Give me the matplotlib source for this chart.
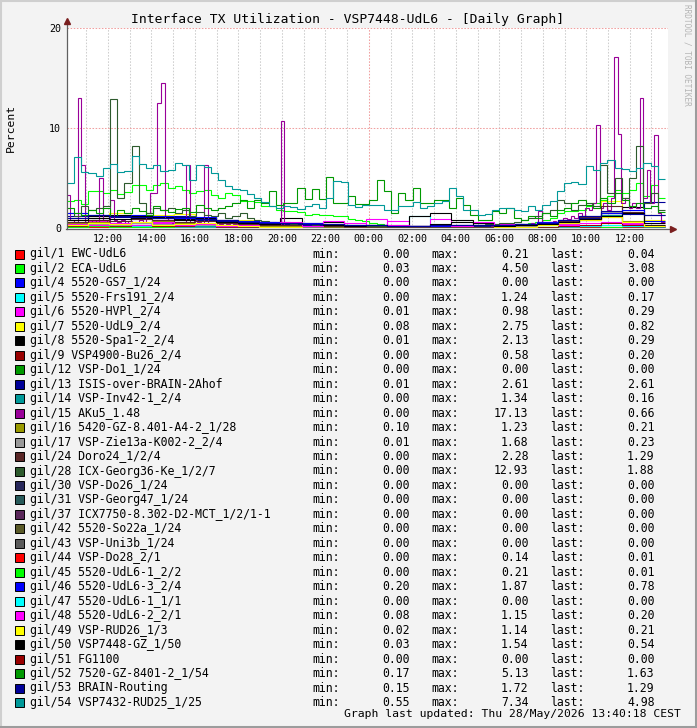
import numpy as np
import matplotlib
matplotlib.use("Agg")
import matplotlib.pyplot as plt
from matplotlib.patches import Rectangle

W, H = 697, 728

# time axis in hours since 00:00 of the first day
T_START = 10.10
T_END = 37.62
X_MAX = 37.76
X_TICKS = [12, 14, 16, 18, 20, 22, 24, 26, 28, 30, 32, 34, 36]
X_TICK_LABELS = ["12:00", "14:00", "16:00", "18:00", "20:00", "22:00", "00:00",
                 "02:00", "04:00", "06:00", "08:00", "10:00", "12:00"]
Y_TICKS = [0, 10, 20]

TITLE = "Interface TX Utilization - VSP7448-UdL6 - [Daily Graph]"
FOOTER = "Graph last updated: Thu 28/May/2026 13:40:18 CEST"

PORTS = ["gil/1 EWC-UdL6", "gil/2 ECA-UdL6", "gil/4 5520-GS7_1/24", "gil/5 5520-Frs191_2/4",
         "gil/6 5520-HVPl_2/4", "gil/7 5520-UdL9_2/4", "gil/8 5520-Spa1-2_2/4",
         "gil/9 VSP4900-Bu26_2/4", "gil/12 VSP-Do1_1/24", "gil/13 ISIS-over-BRAIN-2Ahof",
         "gil/14 VSP-Inv42-1_2/4", "gil/15 AKu5_1.48", "gil/16 5420-GZ-8.401-A4-2_1/28",
         "gil/17 VSP-Zie13a-K002-2_2/4", "gil/24 Doro24_1/2/4", "gil/28 ICX-Georg36-Ke_1/2/7",
         "gil/30 VSP-Do26_1/24", "gil/31 VSP-Georg47_1/24", "gil/37 ICX7750-8.302-D2-MCT_1/2/1-1",
         "gil/42 5520-So22a_1/24", "gil/43 VSP-Uni3b_1/24", "gil/44 VSP-Do28_2/1",
         "gil/45 5520-UdL6-1_2/2", "gil/46 5520-UdL6-3_2/4", "gil/47 5520-UdL6-1_1/1",
         "gil/48 5520-UdL6-2_2/1", "gil/49 VSP-RUD26_1/3", "gil/50 VSP7448-GZ_1/50",
         "gil/51 FG1100", "gil/52 7520-GZ-8401-2_1/54", "gil/53 BRAIN-Routing",
         "gil/54 VSP7432-RUD25_1/25"]
COLORS = ["#ff0000", "#00ff00", "#0000ff", "#00ffff", "#ff00ff", "#ffff00", "#000000",
          "#990000", "#009900", "#000099", "#009999", "#990099", "#999900", "#999999",
          "#5a2727", "#2d5a2d", "#27275a", "#275a5a", "#5a275a", "#5a5a27", "#5a5a5a",
          "#ff0000", "#00ff00", "#0000ff", "#00ffff", "#ff00ff", "#ffff00", "#000000",
          "#990000", "#009900", "#000099", "#009999"]
MINS = [0.00, 0.03, 0.00, 0.00, 0.01, 0.08, 0.01, 0.00, 0.00, 0.01, 0.00, 0.00, 0.10, 0.01,
        0.00, 0.00, 0.00, 0.00, 0.00, 0.00, 0.00, 0.00, 0.00, 0.20, 0.00, 0.08, 0.02, 0.03,
        0.00, 0.17, 0.15, 0.55]
MAXS = [0.21, 4.50, 0.00, 1.24, 0.98, 2.75, 2.13, 0.58, 0.00, 2.61, 1.34, 17.13, 1.23, 1.68,
        2.28, 12.93, 0.00, 0.00, 0.00, 0.00, 0.00, 0.14, 0.21, 1.87, 0.00, 1.15, 1.14, 1.54,
        0.00, 5.13, 1.72, 7.34]
LASTS = [0.04, 3.08, 0.00, 0.17, 0.29, 0.82, 0.29, 0.20, 0.00, 2.61, 0.16, 0.66, 0.21, 0.23,
         1.29, 1.88, 0.00, 0.00, 0.00, 0.00, 0.00, 0.01, 0.01, 0.78, 0.00, 0.20, 0.21, 0.54,
         0.00, 1.63, 1.29, 4.98]

# spiky port, 10 minute samples (percent)
gi_15 = [3.3, 0.8, 0.6, 13.0, 6.3, 0.5, 0.6, 0.8, 0.5, 5.0, 0.8, 0.6,
         2.8, 0.8, 0.6, 0.8, 0.5, 0.7, 0.6, 0.5, 0.8, 0.6, 1.5, 3.5,
         3.5, 12.5, 14.5, 1.0, 0.8, 0.5, 0.6, 0.5, 0.6, 6.3, 0.6, 0.8,
         0.6, 0.5, 6.3, 0.5, 0.4, 0.5, 0.4, 0.3, 0.4, 0.3, 0.4, 0.3,
         0.3, 0.2, 0.3, 0.2, 0.3, 0.2, 0.3, 0.2, 0.2, 0.3, 0.2, 10.7,
         0.3, 0.2, 0.2, 0.2, 0.1, 0.2, 0.2, 0.1, 0.2, 0.1, 0.1, 0.1,
         0.1, 0.1, 0.1, 0.1, 0.1, 0.1, 0.1, 0.1, 0.1, 0.1, 0.1, 0.1,
         0.1, 0.1, 0.1, 0.1, 0.1, 0.1, 0.1, 0.1, 0.1, 0.1, 0.1, 0.1,
         0.1, 0.1, 0.1, 0.1, 0.1, 0.1, 0.1, 0.1, 0.1, 0.1, 0.1, 0.1,
         0.1, 0.1, 0.1, 0.1, 0.1, 0.1, 0.1, 0.1, 0.1, 0.2, 0.2, 0.2,
         0.2, 0.3, 0.2, 0.3, 0.3, 0.4, 0.3, 0.4, 0.5, 0.4, 1.7, 0.5,
         0.5, 0.6, 0.7, 0.6, 0.8, 1.0, 0.9, 1.2, 1.0, 1.5, 1.2, 2.0,
         1.8, 2.5, 10.3, 2.0, 2.5, 1.8, 3.0, 17.13, 9.4, 2.5, 3.0, 2.0,
         2.5, 2.0, 13.0, 3.0, 5.8, 2.5, 9.3, 1.5, 0.66]

# busy ports, 20 minute samples (percent)
gi_2 = [2.7, 2.8, 2.4, 3.7, 3.7, 3.5, 3.8, 3.4, 3.6, 4.3,
        4.3, 3.8, 4.3, 4.5, 4.0, 4.2, 3.8, 3.5, 3.7, 3.8,
        3.3, 3.0, 3.5, 3.3, 2.7, 2.7, 2.6, 2.2, 2.2, 1.8,
        1.7, 1.7, 1.6, 1.3, 1.4, 1.3, 1.3, 1.2, 1.2, 0.9,
        0.8, 0.7, 0.5, 0.4, 0.3, 0.3, 0.3, 0.25, 0.2, 0.2,
        0.2, 0.2, 0.2, 0.2, 0.2, 0.2, 0.25, 0.2, 0.2, 0.3,
        0.3, 0.3, 0.4, 0.4, 0.5, 0.6, 0.8, 1.0, 1.5, 1.7,
        1.7, 1.8, 2.2, 2.5, 2.8, 3.2, 3.8, 3.5, 3.8, 4.5,
        3.2, 4.3, 3.08]
gi_28 = [1.5, 1.2, 2.2, 1.8, 2.0, 2.2, 12.9, 3.0, 4.5, 8.2,
         2.5, 1.5, 2.0, 1.8, 2.0, 1.5, 1.8, 1.2, 1.6, 1.3,
         1.2, 1.5, 1.0, 1.2, 1.5, 1.0, 0.8, 0.7, 0.6, 0.5,
         0.6, 0.4, 0.5, 0.4, 0.3, 0.4, 0.3, 0.3, 0.3, 0.2,
         0.2, 0.2, 0.2, 0.2, 0.2, 0.2, 0.2, 0.2, 0.2, 0.2,
         0.2, 0.2, 0.2, 0.2, 0.3, 0.3, 0.3, 0.3, 0.4, 0.4,
         0.5, 0.5, 0.6, 0.8, 1.0, 1.2, 1.5, 1.8, 2.8, 2.5,
         1.8, 2.3, 2.5, 2.2, 6.3, 3.5, 5.0, 3.0, 5.0, 8.2,
         2.5, 3.5, 1.88]
gi_52 = [2.0, 1.5, 1.3, 1.8, 1.5, 2.0, 1.2, 1.8, 1.5, 2.0,
         1.7, 1.3, 2.2, 1.8, 1.6, 1.9, 2.0, 1.6, 2.3, 2.0,
         1.8, 2.0, 2.2, 2.5, 2.8, 2.0, 2.8, 2.5, 3.7, 2.3,
         2.5, 2.5, 4.0, 2.9, 3.9, 2.9, 5.13, 2.5, 2.5, 3.2,
         2.4, 2.4, 2.8, 4.8, 3.7, 1.5, 3.5, 2.8, 4.0, 2.5,
         2.5, 2.8, 2.8, 2.0, 3.0, 2.3, 1.3, 0.8, 0.8, 1.7,
         1.5, 2.0, 1.0, 0.8, 1.2, 1.0, 1.5, 1.2, 1.8, 2.0,
         2.5, 2.8, 2.3, 2.0, 3.0, 2.5, 3.5, 2.8, 2.2, 2.5,
         2.0, 2.2, 1.63]
gi_54 = [4.5, 7.1, 5.6, 5.5, 5.2, 6.0, 6.4, 5.6, 5.7, 7.2,
         6.4, 6.0, 6.3, 5.7, 5.8, 6.5, 6.3, 4.8, 6.3, 6.1,
         5.5, 4.8, 4.2, 3.9, 3.8, 3.4, 3.0, 2.6, 2.2, 2.0,
         2.2, 2.1, 1.9, 2.2, 2.4, 2.0, 3.0, 4.7, 4.6, 2.3,
         2.1, 2.3, 2.3, 2.3, 1.8, 1.8, 2.2, 2.2, 2.6, 2.0,
         2.2, 2.5, 2.7, 4.0, 3.2, 1.8, 1.8, 1.3, 1.4, 1.8,
         2.0, 2.0, 1.8, 1.7, 2.2, 1.8, 2.3, 2.7, 3.7, 4.5,
         4.6, 4.4, 6.2, 5.8, 6.5, 6.8, 6.0, 5.9, 5.7, 6.0,
         6.5, 6.2, 4.98]

# quieter ports, hourly samples (percent)
gi_1 = [0.1, 0.15, 0.1, 0.21, 0.1, 0.1, 0.08, 0.05, 0.05, 0.03, 0.02, 0.02, 0.01, 0.01,
        0.01, 0.01, 0.01, 0.01, 0.01, 0.02, 0.02, 0.03, 0.05, 0.08, 0.1, 0.15, 0.1, 0.04]
gi_5 = [0.1, 0.15, 0.1, 0.2, 0.1, 0.1, 0.1, 0.05, 0.05, 0.05, 0.05, 0.05, 0.05, 0.05,
        0.05, 0.1, 1.24, 0.1, 0.05, 0.05, 0.05, 0.1, 0.1, 0.1, 0.2, 0.3, 0.2, 0.17]
gi_6 = [0.5, 0.7, 0.4, 0.6, 0.5, 0.4, 0.3, 0.5, 0.3, 0.2, 0.4, 0.3, 0.2, 0.5,
        0.3, 0.7, 0.2, 0.98, 0.3, 0.2, 0.4, 0.3, 0.6, 0.4, 0.5, 0.6, 0.4, 0.29]
gi_7 = [0.8, 1.2, 1.5, 1.0, 1.3, 1.4, 0.9, 0.6, 0.8, 0.5, 0.4, 0.2, 0.15, 0.1,
        0.1, 0.1, 0.1, 0.1, 0.1, 0.1, 0.1, 0.2, 0.3, 0.5, 1.2, 2.75, 1.5, 0.82]
gi_8 = [1.0, 1.2, 1.3, 1.0, 1.1, 0.9, 1.0, 0.8, 0.7, 0.6, 1.0, 0.5, 0.6, 0.3,
        0.2, 0.2, 1.2, 1.5, 0.8, 0.5, 0.3, 0.3, 0.5, 0.8, 1.0, 1.5, 2.13, 0.29]
gi_9 = [0.2, 0.3, 0.2, 0.3, 0.25, 0.2, 0.2, 0.15, 0.1, 0.1, 0.1, 0.05, 0.05, 0.05,
        0.05, 0.05, 0.05, 0.05, 0.05, 0.05, 0.05, 0.1, 0.15, 0.2, 0.3, 0.58, 0.3, 0.2]
gi_13 = [1.2, 1.0, 1.1, 0.9, 1.0, 1.2, 0.8, 0.7, 0.5, 0.4, 0.4, 0.3, 0.3, 0.2,
         0.2, 0.15, 0.2, 0.3, 0.2, 0.2, 0.3, 0.4, 0.5, 0.6, 1.0, 1.3, 1.6, 2.61]
gi_14 = [0.3, 0.4, 0.3, 0.5, 0.4, 0.3, 0.2, 0.3, 0.2, 0.1, 0.1, 0.1, 0.05, 0.05,
         0.05, 0.05, 0.05, 0.05, 0.05, 0.1, 0.1, 0.2, 0.3, 0.5, 0.8, 1.34, 0.5, 0.16]
gi_16 = [0.5, 0.6, 0.4, 0.5, 0.7, 0.5, 0.4, 0.3, 0.3, 0.2, 0.2, 0.15, 0.15, 0.1,
         0.1, 0.1, 0.1, 0.1, 0.15, 0.15, 0.2, 0.3, 0.5, 0.6, 0.8, 1.23, 0.7, 0.21]
gi_17 = [0.3, 0.4, 0.3, 0.5, 0.4, 0.3, 0.3, 0.2, 0.2, 0.1, 0.1, 0.1, 0.05, 0.05,
         0.05, 0.05, 0.05, 0.05, 0.1, 0.1, 0.1, 0.2, 0.3, 0.5, 0.9, 1.68, 0.6, 0.23]
gi_24 = [0.6, 0.8, 0.7, 0.9, 0.8, 0.6, 0.7, 0.5, 0.4, 0.3, 0.3, 0.2, 0.2, 0.1,
         0.1, 0.1, 0.1, 0.1, 0.1, 0.1, 0.2, 0.3, 0.5, 0.7, 1.1, 2.28, 1.6, 1.29]
gi_44 = [0.05, 0.1, 0.05, 0.14, 0.05, 0.05, 0.03, 0.02, 0.02, 0.01, 0.01, 0.0, 0.0, 0.0,
         0.0, 0.0, 0.0, 0.0, 0.0, 0.0, 0.01, 0.01, 0.02, 0.03, 0.05, 0.1, 0.05, 0.01]
gi_45 = [0.1, 0.21, 0.1, 0.15, 0.1, 0.08, 0.05, 0.03, 0.02, 0.01, 0.01, 0.0, 0.0, 0.0,
         0.0, 0.0, 0.0, 0.0, 0.0, 0.0, 0.01, 0.01, 0.02, 0.05, 0.08, 0.1, 0.05, 0.01]
gi_46 = [1.5, 1.3, 1.2, 1.3, 1.2, 1.0, 1.1, 0.8, 0.7, 0.6, 0.5, 0.5, 0.4, 0.3,
         0.3, 0.25, 0.2, 0.25, 0.3, 0.3, 0.3, 0.4, 0.6, 0.8, 1.2, 1.5, 1.87, 0.78]
gi_48 = [0.4, 0.3, 0.5, 0.3, 0.6, 0.3, 0.4, 0.2, 0.3, 0.5, 0.6, 0.2, 0.7, 0.2,
         0.9, 0.3, 0.2, 0.3, 0.2, 0.6, 0.2, 0.3, 0.5, 0.3, 0.8, 1.15, 0.5, 0.2]
gi_49 = [0.3, 0.5, 0.4, 0.6, 0.3, 0.4, 0.5, 0.3, 0.2, 0.1, 0.1, 0.05, 0.05, 0.03,
         0.03, 0.03, 0.03, 0.05, 0.05, 0.05, 0.1, 0.1, 0.3, 0.5, 0.8, 1.14, 0.6, 0.21]
gi_50 = [0.8, 1.0, 0.9, 1.2, 1.0, 0.8, 0.9, 0.6, 0.5, 0.4, 0.5, 0.4, 0.3, 0.2,
         0.3, 0.2, 0.2, 0.4, 0.6, 0.3, 0.2, 0.3, 0.4, 0.6, 0.9, 1.2, 1.54, 0.54]
gi_53 = [1.0, 1.3, 1.2, 1.1, 1.0, 1.1, 0.9, 0.8, 0.6, 0.5, 0.5, 0.4, 0.4, 0.3,
         0.3, 0.2, 0.2, 0.3, 0.3, 0.3, 0.3, 0.4, 0.5, 0.8, 1.2, 1.72, 1.4, 1.29]
idle = [0.0, 0.0]  # ports with no traffic at all

SERIES = [gi_1, gi_2, idle, gi_5, gi_6, gi_7, gi_8, gi_9, idle, gi_13, gi_14, gi_15,
          gi_16, gi_17, gi_24, gi_28, idle, idle, idle, idle, idle, gi_44, gi_45, gi_46,
          idle, gi_48, gi_49, gi_50, idle, gi_52, gi_53, gi_54]

MONO = "DejaVu Sans Mono"
plt.rcParams["font.family"] = MONO


def px_box(x0, y0, x1, y1):
    # figure fraction box from pixel corners (top-left origin)
    return [x0 / W, 1 - y1 / H, (x1 - x0) / W, (y1 - y0) / H]


def main():
    fig = plt.figure(figsize=(W / 100, H / 100), dpi=100, facecolor="#f3f3f3")

    ax = fig.add_axes(px_box(66.7, 28.3, 668, 228.3))
    ax.set_facecolor("white")
    ax.set_xlim(T_START, X_MAX)
    ax.set_ylim(0, 20)
    for s in ax.spines.values():
        s.set_visible(False)

    dots = (0, (1.5, 1.5))
    for h in range(11, 38):
        if h == 24:
            continue
        ax.axvline(h, color="#cfcfcf", lw=0.75, ls=dots, zorder=0)
    ax.axvline(24, color="#f0a0a0", lw=0.75, ls=dots, zorder=0)
    for v in Y_TICKS[1:]:
        ax.axhline(v, color="#f0a0a0", lw=0.75, ls=dots, zorder=0)

    for vals, col in zip(SERIES, COLORS):
        edges = np.linspace(T_START, T_END, len(vals) + 1)
        ax.stairs(vals, edges, baseline=None, color=col, lw=0.8, zorder=2)

    ax.set_xticks(X_TICKS)
    ax.set_xticklabels(X_TICK_LABELS)
    ax.set_yticks(Y_TICKS)
    ax.tick_params(length=0, labelsize=7.2, pad=4.0, colors="black")

    # overlay in pixel coordinates for axis arrows, legend and texts
    ov = fig.add_axes([0, 0, 1, 1])
    ov.set_xlim(0, W)
    ov.set_ylim(H, 0)
    ov.axis("off")
    ov.patch.set_visible(False)

    ov.plot([66.7, 66.7], [229, 23], color="#606060", lw=0.9)
    ov.plot([66, 671], [228.6, 228.6], color="#606060", lw=0.9)
    ov.plot([66.7], [21], marker="^", ms=4, color="#7a1f1f")
    ov.plot([673], [228.6], marker=">", ms=4, color="#7a1f1f")

    ov.text(348, 19, TITLE, ha="center", va="center", fontsize=9.4)
    ov.text(10.7, 128, "Percent", rotation=90, ha="center", va="center", fontsize=8.2)
    ov.text(687, 4, "RRDTOOL / TOBI OETIKER", rotation=-90, ha="center", va="top",
            fontsize=5.6, color="#b4b4b4")

    row_h = (688 - 254) / 30
    for k, name in enumerate(PORTS):
        y = 254 + k * row_h
        ov.add_patch(Rectangle((15, y - 4.5), 9, 9, facecolor=COLORS[k], edgecolor="black", lw=0.7))
        ov.text(30, y, name, ha="left", va="center", fontsize=8.3)
        ov.text(312, y, "min:", ha="left", va="center", fontsize=8.3)
        ov.text(409.5, y, "%.2f" % MINS[k], ha="right", va="center", fontsize=8.3)
        ov.text(431, y, "max:", ha="left", va="center", fontsize=8.3)
        ov.text(528.5, y, "%.2f" % MAXS[k], ha="right", va="center", fontsize=8.3)
        ov.text(550, y, "last:", ha="left", va="center", fontsize=8.3)
        ov.text(654.5, y, "%.2f" % LASTS[k], ha="right", va="center", fontsize=8.3)

    ov.text(681, 714, FOOTER, ha="right", va="center", fontsize=8.2)

    # 3d-ish frame around the image
    ov.plot([0, W], [1, 1], color="#cfcfcf", lw=1.5)
    ov.plot([1, 1], [0, H], color="#cfcfcf", lw=1.5)
    ov.plot([W - 1.5, W - 1.5], [0, H], color="#9c9c9c", lw=2.2)
    ov.plot([0, W], [H - 1.5, H - 1.5], color="#9c9c9c", lw=2.2)

    fig.savefig("out.png", dpi=100, facecolor=fig.get_facecolor())


if __name__ == "__main__":
    main()
